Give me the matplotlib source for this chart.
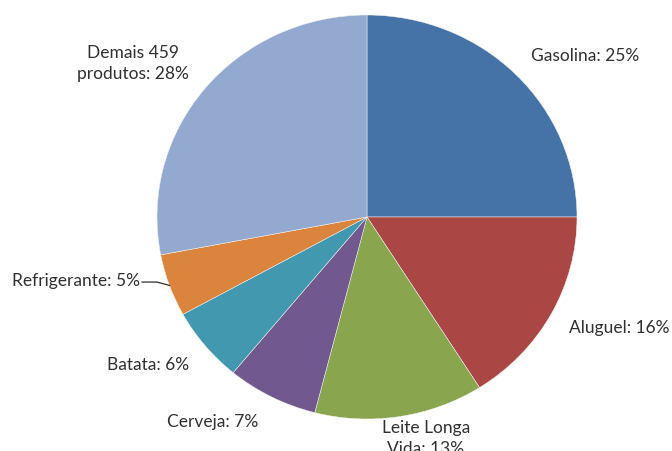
import numpy as np
import matplotlib.pyplot as plt

plt.rcParams["font.family"] = ["Lato", "DejaVu Sans"]

labels = ["Gasolina", "Aluguel", "Leite Longa\nVida", "Cerveja",
          "Batata", "Refrigerante", "Demais 459\nprodutos"]
shares = [25, 16, 13, 7, 6, 5, 28]
colors = ["#4572A7", "#AA4643", "#89A54E", "#71588F",
          "#4198AF", "#DB843D", "#93A9CF"]

# label text centres (data units, ellipse radius 1)
label_pos = [(1.04, 0.80), (1.20, -0.545), (0.28, -1.09), (-0.733, -1.01),
             (-1.043, -0.728), (-1.386, -0.312), (-1.114, 0.765)]

fig = plt.figure(figsize=(6.72, 4.52), dpi=100)
ax = fig.add_axes([0, 0, 1, 1])

wedges, _ = ax.pie(shares, colors=colors, startangle=90, counterclock=False,
                   wedgeprops=dict(edgecolor="#f4f4f4", linewidth=0.35))
ax.set_aspect("auto")
ax.set_xlim(-367 / 210, 305 / 210)
ax.set_ylim(-234 / 202, 218 / 202)
ax.axis("off")

for w, lab, s, (tx, ty) in zip(wedges, labels, shares, label_pos):
    ax.text(tx, ty, f"{lab}: {s}%", ha="center", va="center",
            fontsize=12.5, color="#303030", linespacing=1.38)

# leader line for Refrigerante
w = wedges[5]
mid = np.deg2rad((w.theta1 + w.theta2) / 2)
ex, ey = np.cos(mid), np.sin(mid)
ax.plot([-1.071, -1.0, ex], [-0.322, -0.322, ey], color="#303030", lw=0.9)

fig.savefig("out.png", dpi=100)
